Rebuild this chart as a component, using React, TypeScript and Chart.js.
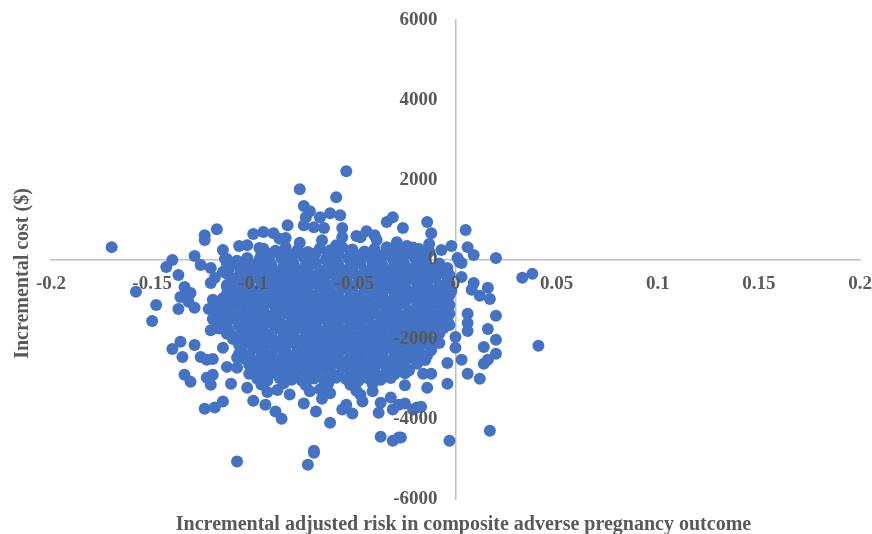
import React, { useEffect, useRef } from "react";
import { Chart, registerables } from "chart.js";

Chart.register(...registerables);

// ---- Axis ticks and titles ----
const xTickValues = [-0.2, -0.15, -0.1, -0.05, 0, 0.05, 0.1, 0.15, 0.2];
const xTickLabels = ["-0.2", "-0.15", "-0.1", "-0.05", "0", "0.05", "0.1", "0.15", "0.2"];
const yTickValues = [-6000, -4000, -2000, 0, 2000, 4000, 6000];
const yTickLabels = ["-6000", "-4000", "-2000", "0", "2000", "4000", "6000"];

const xTitle = "Incremental adjusted risk in composite adverse pregnancy outcome";
const yTitle = "Incremental cost ($)";

// ---- Data: [incremental risk, incremental cost] ----
const upperScatter: [number, number][] = [
  [-0.170, 310], [-0.140, -10], [-0.129, 90], [-0.124, 610], [-0.124, 490], [-0.118, 760],
  [-0.115, 240], [-0.113, 10], [-0.107, 340], [-0.103, 360], [-0.100, 640], [-0.095, 690],
  [-0.097, 290], [-0.105, -90], [-0.126, -140], [-0.121, -210], [-0.143, -190],
  [-0.054, 2210], [-0.077, 1760], [-0.059, 1560], [-0.075, 1340], [-0.072, 1210],
  [-0.067, 1060], [-0.062, 1160], [-0.057, 1110], [-0.074, 1060], [-0.075, 860],
  [-0.083, 860], [-0.090, 660], [-0.084, 540], [-0.070, 810], [-0.065, 790], [-0.056, 790],
  [-0.056, 560], [-0.049, 590], [-0.044, 710], [-0.040, 610], [-0.034, 940], [-0.031, 1060],
  [-0.026, 790], [-0.024, 340], [-0.034, 310], [-0.014, 940], [-0.012, 660], [-0.017, 10],
  [-0.013, 390], [-0.007, 240], [-0.002, 340], [-0.004, -210], [0.005, 740], [0.006, 310],
  [0.009, 110], [0.001, 40], [0.003, -90], [0.020, 40], [-0.022, 240],
  [-0.087, 520], [-0.077, 420], [-0.066, 480], [-0.059, 360], [-0.047, 560], [-0.039, 490],
  [-0.029, 430], [-0.021, 300],
];

const coreCloud: [number, number][] = [
  // ~ 250
  [-0.095, 270], [-0.089, 220], [-0.084, 300], [-0.078, 240], [-0.073, 190], [-0.067, 280],
  [-0.062, 230], [-0.056, 310], [-0.051, 250], [-0.045, 200], [-0.040, 270], [-0.034, 230],
  [-0.029, 290], [-0.023, 210], [-0.018, 260], [-0.013, 200],
  // ~ 125
  [-0.096, 110], [-0.091, 150], [-0.085, 100], [-0.080, 140], [-0.074, 120], [-0.069, 160],
  [-0.063, 100], [-0.058, 130], [-0.052, 150], [-0.047, 110], [-0.041, 140], [-0.036, 100],
  [-0.030, 160], [-0.025, 120], [-0.019, 100], [-0.014, 150],
  // ~ 0
  [-0.114, 20], [-0.108, -30], [-0.103, 40], [-0.097, 0], [-0.092, -40], [-0.086, 30],
  [-0.081, -10], [-0.075, 50], [-0.070, -20], [-0.064, 10], [-0.059, -40], [-0.053, 30],
  [-0.048, -10], [-0.042, 40], [-0.037, -20], [-0.031, 10], [-0.026, -30], [-0.020, 30],
  [-0.015, -20],
  // ~ -125
  [-0.113, -110], [-0.107, -150], [-0.102, -100], [-0.096, -140], [-0.091, -130], [-0.085, -160],
  [-0.080, -110], [-0.074, -140], [-0.069, -100], [-0.063, -150], [-0.058, -120], [-0.052, -160],
  [-0.047, -100], [-0.041, -130], [-0.036, -150], [-0.030, -110], [-0.025, -140], [-0.019, -120],
  [-0.014, -160], [-0.008, -100],
  // ~ -250
  [-0.112, -230], [-0.106, -280], [-0.100, -210], [-0.095, -260], [-0.089, -300], [-0.084, -220],
  [-0.078, -270], [-0.073, -240], [-0.067, -290], [-0.062, -210], [-0.056, -260], [-0.051, -230],
  [-0.045, -280], [-0.040, -220], [-0.034, -260], [-0.029, -300], [-0.023, -230], [-0.018, -270],
  [-0.012, -220], [-0.006, -280],
  // ~ -375
  [-0.113, -360], [-0.107, -400], [-0.102, -350], [-0.096, -390], [-0.091, -370], [-0.085, -410],
  [-0.080, -350], [-0.074, -380], [-0.069, -400], [-0.063, -360], [-0.058, -390], [-0.052, -350],
  [-0.047, -410], [-0.041, -370], [-0.036, -350], [-0.030, -390], [-0.025, -360], [-0.019, -400],
  [-0.014, -370], [-0.008, -350], [-0.003, -390],
  // ~ -500
  [-0.110, -480], [-0.104, -530], [-0.098, -460], [-0.093, -510], [-0.087, -550], [-0.081, -470],
  [-0.076, -520], [-0.070, -490], [-0.065, -540], [-0.059, -460], [-0.054, -510], [-0.048, -480],
  [-0.043, -530], [-0.037, -470], [-0.032, -520], [-0.026, -550], [-0.021, -480], [-0.015, -520],
  [-0.010, -470], [-0.004, -530],
  // ~ -625
  [-0.113, -640], [-0.107, -600], [-0.102, -650], [-0.096, -610], [-0.091, -630], [-0.085, -590],
  [-0.080, -650], [-0.074, -620], [-0.069, -600], [-0.063, -640], [-0.058, -610], [-0.052, -660],
  [-0.047, -590], [-0.041, -630], [-0.036, -650], [-0.030, -610], [-0.025, -640], [-0.019, -600],
  [-0.014, -630], [-0.008, -650], [-0.003, -610],
  // ~ -750
  [-0.111, -760], [-0.106, -730], [-0.100, -780], [-0.095, -710], [-0.089, -760], [-0.084, -800],
  [-0.078, -720], [-0.073, -770], [-0.067, -740], [-0.062, -790], [-0.056, -710], [-0.051, -760],
  [-0.045, -730], [-0.040, -780], [-0.034, -720], [-0.029, -770], [-0.023, -800], [-0.018, -730],
  [-0.012, -770], [-0.006, -720], [-0.002, -790],
  // ~ -875
  [-0.113, -860], [-0.107, -900], [-0.102, -850], [-0.096, -890], [-0.091, -870], [-0.085, -910],
  [-0.080, -850], [-0.074, -880], [-0.069, -900], [-0.063, -860], [-0.058, -890], [-0.052, -850],
  [-0.047, -910], [-0.041, -870], [-0.036, -850], [-0.030, -890], [-0.025, -860], [-0.019, -900],
  [-0.014, -870], [-0.008, -850], [-0.003, -890],
  // ~ -1000
  [-0.120, -1010], [-0.115, -970], [-0.110, -1040], [-0.104, -990], [-0.098, -1020], [-0.093, -960],
  [-0.087, -1030], [-0.081, -1000], [-0.076, -970], [-0.070, -1040], [-0.065, -1010], [-0.059, -960],
  [-0.054, -1030], [-0.048, -990], [-0.043, -1020], [-0.037, -970], [-0.032, -1040], [-0.026, -1000],
  [-0.021, -960], [-0.015, -1030], [-0.010, -990], [-0.004, -1020],
  // ~ -1125
  [-0.118, -1140], [-0.113, -1100], [-0.107, -1150], [-0.102, -1110], [-0.096, -1130], [-0.091, -1090],
  [-0.085, -1150], [-0.080, -1120], [-0.074, -1100], [-0.069, -1140], [-0.063, -1110], [-0.058, -1160],
  [-0.052, -1090], [-0.047, -1130], [-0.041, -1150], [-0.036, -1110], [-0.030, -1140], [-0.025, -1100],
  [-0.019, -1130], [-0.014, -1150], [-0.008, -1110], [-0.003, -1140],
  // ~ -1250
  [-0.122, -1240], [-0.117, -1280], [-0.112, -1220], [-0.106, -1260], [-0.100, -1290], [-0.095, -1230],
  [-0.089, -1270], [-0.084, -1210], [-0.078, -1250], [-0.073, -1290], [-0.067, -1230], [-0.062, -1260],
  [-0.056, -1220], [-0.051, -1280], [-0.045, -1240], [-0.040, -1210], [-0.034, -1270], [-0.029, -1230],
  [-0.023, -1290], [-0.018, -1250], [-0.012, -1220], [-0.006, -1270],
  // ~ -1375
  [-0.118, -1360], [-0.113, -1400], [-0.107, -1350], [-0.102, -1390], [-0.096, -1370], [-0.091, -1410],
  [-0.085, -1350], [-0.080, -1380], [-0.074, -1400], [-0.069, -1360], [-0.063, -1390], [-0.058, -1350],
  [-0.052, -1410], [-0.047, -1370], [-0.041, -1350], [-0.036, -1390], [-0.030, -1360], [-0.025, -1400],
  [-0.019, -1370], [-0.014, -1350], [-0.008, -1390], [-0.003, -1360],
  // ~ -1500
  [-0.120, -1490], [-0.115, -1530], [-0.110, -1470], [-0.104, -1510], [-0.098, -1540], [-0.093, -1480],
  [-0.087, -1520], [-0.081, -1460], [-0.076, -1500], [-0.070, -1540], [-0.065, -1480], [-0.059, -1510],
  [-0.054, -1470], [-0.048, -1530], [-0.043, -1490], [-0.037, -1460], [-0.032, -1520], [-0.026, -1480],
  [-0.021, -1540], [-0.015, -1500], [-0.010, -1470], [-0.004, -1520],
  // ~ -1625
  [-0.118, -1640], [-0.113, -1600], [-0.107, -1650], [-0.102, -1610], [-0.096, -1630], [-0.091, -1590],
  [-0.085, -1650], [-0.080, -1620], [-0.074, -1600], [-0.069, -1640], [-0.063, -1610], [-0.058, -1660],
  [-0.052, -1590], [-0.047, -1630], [-0.041, -1650], [-0.036, -1610], [-0.030, -1640], [-0.025, -1600],
  [-0.019, -1630], [-0.014, -1650], [-0.008, -1610], [-0.003, -1640],
  // ~ -1750
  [-0.121, -1770], [-0.117, -1730], [-0.112, -1780], [-0.106, -1720], [-0.100, -1760], [-0.095, -1790],
  [-0.089, -1730], [-0.084, -1770], [-0.078, -1710], [-0.073, -1750], [-0.067, -1790], [-0.062, -1730],
  [-0.056, -1760], [-0.051, -1720], [-0.045, -1780], [-0.040, -1740], [-0.034, -1710], [-0.029, -1770],
  [-0.023, -1730], [-0.018, -1790], [-0.012, -1750], [-0.006, -1720],
  // ~ -1875
  [-0.113, -1860], [-0.107, -1900], [-0.102, -1850], [-0.096, -1890], [-0.091, -1870], [-0.085, -1910],
  [-0.080, -1850], [-0.074, -1880], [-0.069, -1900], [-0.063, -1860], [-0.058, -1890], [-0.052, -1850],
  [-0.047, -1910], [-0.041, -1870], [-0.036, -1850], [-0.030, -1890], [-0.025, -1860], [-0.019, -1900],
  [-0.014, -1870], [-0.008, -1850],
  // ~ -2000
  [-0.110, -1990], [-0.104, -2030], [-0.098, -1970], [-0.093, -2010], [-0.087, -2040], [-0.081, -1980],
  [-0.076, -2020], [-0.070, -1960], [-0.065, -2000], [-0.059, -2040], [-0.054, -1980], [-0.048, -2010],
  [-0.043, -1970], [-0.037, -2030], [-0.032, -1990], [-0.026, -1960], [-0.021, -2020], [-0.015, -1980],
  [-0.010, -2040],
  // ~ -2125
  [-0.107, -2140], [-0.102, -2100], [-0.096, -2150], [-0.091, -2110], [-0.085, -2130], [-0.080, -2090],
  [-0.074, -2150], [-0.069, -2120], [-0.063, -2100], [-0.058, -2140], [-0.052, -2110], [-0.047, -2160],
  [-0.041, -2090], [-0.036, -2130], [-0.030, -2150], [-0.025, -2110], [-0.019, -2140], [-0.014, -2100],
  // ~ -2250
  [-0.106, -2270], [-0.100, -2230], [-0.095, -2280], [-0.089, -2220], [-0.084, -2260], [-0.078, -2290],
  [-0.073, -2230], [-0.067, -2270], [-0.062, -2210], [-0.056, -2250], [-0.051, -2290], [-0.045, -2230],
  [-0.040, -2260], [-0.034, -2220], [-0.029, -2280], [-0.023, -2240], [-0.018, -2210], [-0.012, -2270],
  // ~ -2375
  [-0.107, -2360], [-0.102, -2400], [-0.096, -2350], [-0.091, -2390], [-0.085, -2370], [-0.080, -2410],
  [-0.074, -2350], [-0.069, -2380], [-0.063, -2400], [-0.058, -2360], [-0.052, -2390], [-0.047, -2350],
  [-0.041, -2410], [-0.036, -2370], [-0.030, -2350], [-0.025, -2390], [-0.019, -2360], [-0.014, -2400],
  // ~ -2500
  [-0.104, -2490], [-0.098, -2530], [-0.093, -2470], [-0.087, -2510], [-0.081, -2540], [-0.076, -2480],
  [-0.070, -2520], [-0.065, -2460], [-0.059, -2500], [-0.054, -2540], [-0.048, -2480], [-0.043, -2510],
  [-0.037, -2470], [-0.032, -2530], [-0.026, -2490], [-0.021, -2460], [-0.015, -2520],
  // ~ -2625
  [-0.102, -2640], [-0.096, -2600], [-0.091, -2650], [-0.085, -2610], [-0.080, -2630], [-0.074, -2590],
  [-0.069, -2650], [-0.063, -2620], [-0.058, -2600], [-0.052, -2640], [-0.047, -2610], [-0.041, -2660],
  [-0.036, -2590], [-0.030, -2630], [-0.025, -2650], [-0.019, -2610],
  // ~ -2750
  [-0.100, -2770], [-0.095, -2730], [-0.089, -2780], [-0.084, -2720], [-0.078, -2760], [-0.073, -2790],
  [-0.067, -2730], [-0.062, -2770], [-0.056, -2710], [-0.051, -2750], [-0.045, -2790], [-0.040, -2730],
  [-0.034, -2760], [-0.029, -2720], [-0.023, -2780],
  // ~ -2875
  [-0.102, -2860], [-0.096, -2900], [-0.091, -2850], [-0.085, -2890], [-0.080, -2870], [-0.074, -2910],
  [-0.069, -2850], [-0.063, -2880], [-0.058, -2900], [-0.052, -2860], [-0.047, -2890], [-0.041, -2850],
  [-0.036, -2910], [-0.030, -2870], [-0.025, -2850],
  // ~ -3000
  [-0.098, -2990], [-0.093, -3030], [-0.087, -2970], [-0.081, -3010], [-0.076, -3040], [-0.070, -2980],
  [-0.065, -3020], [-0.059, -2960], [-0.054, -3000], [-0.048, -3040], [-0.043, -2980], [-0.037, -3010],
  [-0.032, -2970],
  // ~ -3125 .. -3300
  [-0.096, -3130], [-0.085, -3100], [-0.074, -3150], [-0.063, -3110], [-0.052, -3140], [-0.041, -3120],
  [-0.093, -3320], [-0.088, -3270], [-0.082, -3380], [-0.072, -3300], [-0.067, -3250], [-0.062, -3350],
  [-0.041, -3300], [-0.025, -3150],
];

const rightScatter: [number, number][] = [
  [0.033, -460], [0.038, -360], [0.009, -590], [0.016, -710], [0.012, -910], [0.017, -990],
  [0.008, -760], [0.003, -440], [0.002, -60], [0.006, -1360], [0.020, -1410], [0.016, -1740],
  [0.020, -2010], [0.014, -2190], [0.020, -2360], [0.016, -2510], [0.014, -2610], [0.006, -1790],
  [0.006, -1590], [0.041, -2160], [0.000, -2210], [0.003, -2510], [-0.004, -2590], [0.006, -2860],
  [0.012, -2990], [-0.004, -3110], [-0.014, -3210], [-0.012, -2860], [-0.016, -2860],
  [0.017, -4290], [-0.003, -4540], [-0.008, -2090], [0.000, -1940],
];

const lowerScatter: [number, number][] = [
  [-0.158, -810], [-0.148, -1140], [-0.150, -1540], [-0.137, -390], [-0.134, -690], [-0.131, -840],
  [-0.136, -940], [-0.129, -1210], [-0.137, -1240], [-0.132, -1060], [-0.136, -2060], [-0.140, -2240],
  [-0.135, -2440], [-0.129, -2140], [-0.126, -2440], [-0.123, -2510], [-0.120, -2490], [-0.134, -2890],
  [-0.131, -3060], [-0.123, -2960], [-0.120, -2890], [-0.121, -3140], [-0.115, -2210], [-0.113, -2690],
  [-0.111, -3110], [-0.108, -2710], [-0.103, -3210], [-0.108, -2460], [-0.121, -590], [-0.119, -460],
  [-0.115, -310], [-0.113, -690],
  [-0.108, -5060], [-0.073, -5140], [-0.070, -4790], [-0.070, -4840], [-0.037, -4440], [-0.031, -4540],
  [-0.028, -4460], [-0.124, -3740], [-0.119, -3710], [-0.115, -3560], [-0.100, -3540], [-0.094, -3640],
  [-0.089, -3810], [-0.086, -3990], [-0.075, -3610], [-0.069, -3810], [-0.062, -4090], [-0.056, -3760],
  [-0.054, -3640], [-0.051, -3860], [-0.046, -3560], [-0.038, -3840], [-0.037, -3590], [-0.032, -3460],
  [-0.031, -3760], [-0.028, -3640], [-0.019, -3710], [-0.049, -3290], [-0.047, -3390], [-0.066, -3490],
  [-0.017, -3690], [-0.021, -3760], [-0.025, -3610], [-0.027, -4460],
];

const allPoints = [...upperScatter, ...coreCloud, ...rightScatter, ...lowerScatter];

const FONT_FAMILY = '"Liberation Serif", "Times New Roman", serif';
const TEXT_COLOR = "#595959";
const AXIS_COLOR = "#bfbfbf";
const Y_LABEL_GAP = 18;

// axis titles drawn at the outer edges (the axes themselves cross at the origin)
const titlePlugin = {
  id: "axisTitles",
  afterDraw(chart: any) {
    const { ctx, chartArea } = chart;
    ctx.save();
    ctx.font = `bold 20px ${FONT_FAMILY}`;
    ctx.fillStyle = TEXT_COLOR;
    ctx.textAlign = "center";
    ctx.textBaseline = "alphabetic";
    const cx = (chartArea.left + chartArea.right) / 2 + 8;
    ctx.fillText(xTitle, cx, chartArea.bottom + 31);
    ctx.translate(28, (chartArea.top + chartArea.bottom) / 2 + 14);
    ctx.rotate(-Math.PI / 2);
    ctx.fillText(yTitle, 0, 0);
    ctx.restore();
  },
};

// keep the y tick labels a little away from the crossing axis line
const yLabelGapPlugin = {
  id: "yLabelGap",
  beforeDraw(chart: any) {
    const s = chart.scales.y;
    if (!s || !s._computeLabelItems) return;
    const items = s._computeLabelItems(chart.chartArea);
    items.forEach((it: any) => {
      it.options.translation[0] -= Y_LABEL_GAP;
    });
    s._labelItems = items;
  },
};

const noScalePadding = (s: any) => {
  s.paddingLeft = 0;
  s.paddingRight = 0;
  s.paddingTop = 0;
  s.paddingBottom = 0;
};

export default function App() {
  const canvasRef = useRef<HTMLCanvasElement | null>(null);

  useEffect(() => {
    if (!canvasRef.current) return;
    const tickFont = { family: FONT_FAMILY, size: 19, weight: "bold" as const };
    const chart = new Chart(canvasRef.current, {
      type: "scatter",
      data: {
        datasets: [
          {
            data: allPoints.map(([x, y]) => ({ x, y })),
            backgroundColor: "#4472C4",
            borderWidth: 0,
            pointRadius: 6,
            pointHoverRadius: 6,
          },
        ],
      },
      options: {
        responsive: false,
        animation: false,
        events: [],
        layout: { autoPadding: false, padding: { left: 51, right: 12, top: 20, bottom: 35 } },
        plugins: { legend: { display: false }, tooltip: { enabled: false } },
        scales: {
          x: {
            type: "linear",
            min: -0.2,
            max: 0.2,
            position: { y: 0 } as any,
            grid: { display: false, drawTicks: false },
            border: { display: true, color: AXIS_COLOR, width: 1.5, z: 0 },
            afterBuildTicks: (s: any) => {
              s.ticks = xTickValues.map((v) => ({ value: v }));
            },
            afterFit: noScalePadding,
            ticks: {
              z: 1,
              padding: 13,
              color: TEXT_COLOR,
              font: tickFont,
              autoSkip: false,
              maxRotation: 0,
              callback: (_v: any, i: number) => xTickLabels[i],
            },
          },
          y: {
            type: "linear",
            min: -6000,
            max: 6000,
            position: { x: 0 } as any,
            grid: { display: false, drawTicks: false },
            border: { display: true, color: AXIS_COLOR, width: 1.5, z: 0 },
            afterBuildTicks: (s: any) => {
              s.ticks = yTickValues.map((v) => ({ value: v }));
            },
            afterFit: noScalePadding,
            ticks: {
              z: 1,
              padding: 0,
              color: TEXT_COLOR,
              font: tickFont,
              autoSkip: false,
              callback: (_v: any, i: number) => yTickLabels[i],
            },
          },
        },
      },
      plugins: [titlePlugin, yLabelGapPlugin],
    });
    return () => chart.destroy();
  }, []);

  return (
    <div style={{ position: "absolute", left: 0, top: 0, width: 872, height: 534, background: "#fff" }}>
      <canvas ref={canvasRef} width={872} height={534} />
    </div>
  );
}
